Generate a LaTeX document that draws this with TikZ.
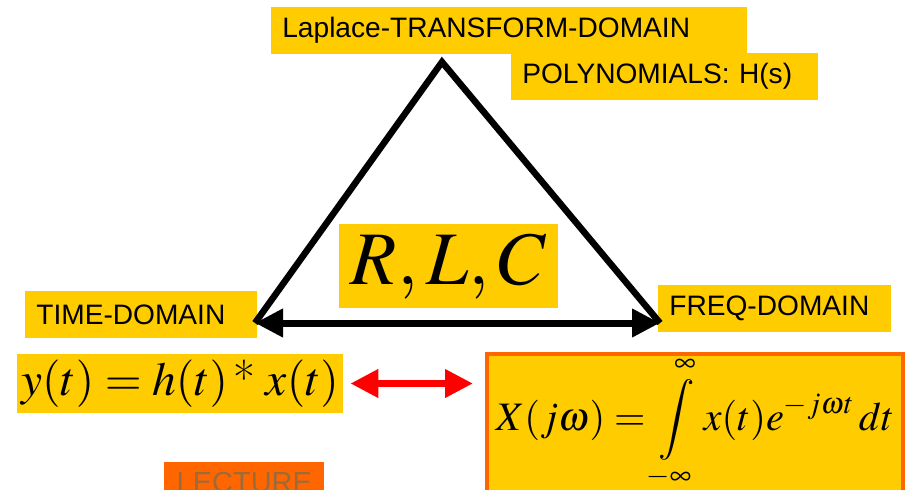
\documentclass[tikz,border=0pt]{standalone}
\usepackage{mathptmx}
\usepackage[no-math]{fontspec}
\newfontfamily\labelfont{Liberation Sans}
\usepackage{tikz}
\usetikzlibrary{arrows.meta, positioning}
\definecolor{slideGold}{HTML}{FFCC00}
\definecolor{slideOrange}{HTML}{FF6600}
\definecolor{slideBrown}{HTML}{9C6B3A}

\begin{document}
\begin{tikzpicture}[
    tag/.style={rectangle, fill=slideGold, anchor=west, minimum height=0.94cm, inner xsep=0.22cm,
                inner ysep=0pt, align=left, font=\labelfont\fontsize{16}{19}\selectfont},
    eqbox/.style={rectangle, fill=slideGold, inner sep=0pt, font=\fontsize{24}{28}\selectfont},
    side/.style={line width=0.13cm, line join=miter},
    arrow/.style={{Triangle[length=0.56cm, width=0.54cm]}-{Triangle[length=0.56cm, width=0.54cm]}, line width=0.14cm},
]
\useasboundingbox (0,0) rectangle (18.22,9.78);
\clip (0,0) rectangle (18.22,9.78);

% Domain labels
\node[tag, text width=9.08cm] (laplace) at (5.42,9.17) {Laplace-TRANSFORM-DOMAIN};
\node[tag, text width=5.70cm] (poly) at (10.22,8.25) {POLYNOMIALS: H(s)};
\node[tag, text width=4.20cm] (time) at (0.50,3.49) {TIME-DOMAIN};
\node[tag, text width=4.22cm] (freq) at (13.16,3.61) {FREQ-DOMAIN};

% Triangle
\coordinate (apex) at (8.84,8.54);
\coordinate (tleft) at (5.10,3.32);
\coordinate (tright) at (13.20,3.32);
\draw[side] (tleft) -- (apex) -- (tright);
\draw[arrow] (tleft) -- (tright);
\node[eqbox, minimum width=4.38cm, minimum height=1.68cm, font=\fontsize{43}{50}\selectfont] (rlc) at (8.97,4.46) {$R,L,C$};

% Equations
\node[eqbox, minimum width=6.52cm, minimum height=1.18cm, font=\fontsize{27}{31}\selectfont] (timeeq) at (3.60,2.11) {$y(t)=h(t)\,\textrm{*}\;x(t)$};
\node[eqbox, draw=slideOrange, line width=0.08cm, minimum width=8.32cm, minimum height=3.2cm, anchor=north] (freqbox) at (13.90,2.74) {};
\node[font=\fontsize{23}{27}\selectfont] (freqeq) at (13.90,1.31) {$\displaystyle X(j\omega)=\int\limits_{-\infty}^{\infty} x(t)e^{-j\omega t}\,dt$};
\draw[arrow, red, shorten <=0.14cm, shorten >=0.24cm] (timeeq.east) -- (timeeq.east -| freqbox.west);

% Cut-off lecture tab
\node[rectangle, fill=slideOrange, minimum width=3.2cm, minimum height=0.80cm, anchor=north west,
      text=slideBrown, font=\labelfont\fontsize{16.5}{19}\selectfont] (lecture) at (3.28,0.54) {LECTURE};
\end{tikzpicture}
\end{document}
